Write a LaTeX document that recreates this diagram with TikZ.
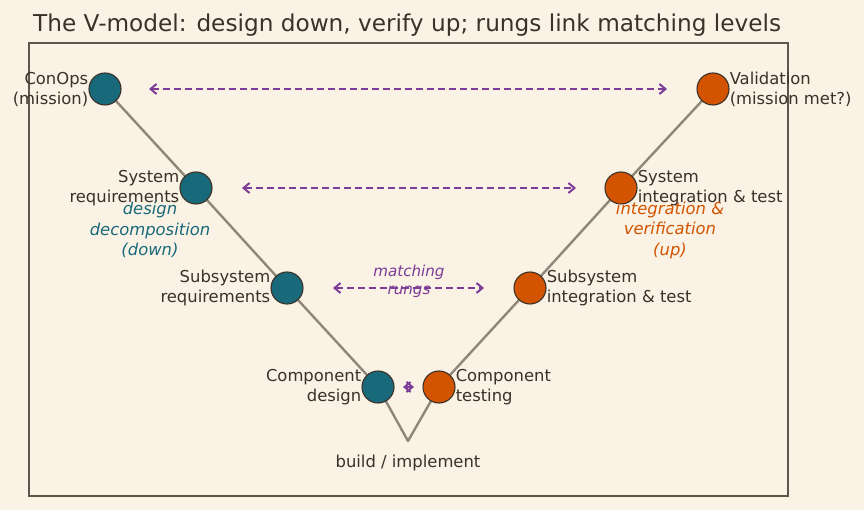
\documentclass[tikz,border=0pt]{standalone}
\usepackage{fontspec}
\setmainfont{DejaVu Sans}
\usetikzlibrary{arrows.meta}
\definecolor{bg}{HTML}{FAF2E4}
\definecolor{ink}{HTML}{3B3129}
\definecolor{frame}{HTML}{5E554B}
\definecolor{teal}{HTML}{18697A}
\definecolor{orng}{HTML}{D35400}
\definecolor{purp}{HTML}{7D3C98}
\definecolor{vline}{HTML}{8E877A}
\tikzset{
  stage/.style={circle, draw=ink, line width=1.1pt, minimum size=32pt, inner sep=0pt},
  design/.style={stage, fill=teal},
  verif/.style={stage, fill=orng},
  lbl/.style={text=ink, font=\fontsize{16.4}{20}\selectfont, inner sep=0pt},
  llbl/.style={lbl, align=right, anchor=east},
  rlbl/.style={lbl, align=left, anchor=west},
  rung/.style={purp, line width=2pt, dash pattern=on 7pt off 4pt, {Straight Barb[length=6pt,width=10pt]}-{Straight Barb[length=6pt,width=10pt]}},
  phase/.style={font=\fontsize{16.4}{20.5}\selectfont\itshape, align=center, inner sep=0pt},
}
\begin{document}
\begin{tikzpicture}[x=1pt,y=-1pt]
\useasboundingbox (0,0) rectangle (864,510);
\fill[bg] (0,0) rectangle (864,510);
\draw[frame, line width=1.4pt] (29,43) rectangle (788,496);
\node[anchor=west, text=ink, font=\fontsize{23.2}{28}\selectfont, inner sep=0pt] (title) at (33,25) {The V-model: design down, verify up; rungs link matching levels};

\coordinate (l1) at (105,89);
\coordinate (l2) at (196,188);
\coordinate (l3) at (287,288);
\coordinate (l4) at (378,387);
\coordinate (bot) at (408,441);
\coordinate (r4) at (439,387);
\coordinate (r3) at (530,288);
\coordinate (r2) at (621,188);
\coordinate (r1) at (713,89);

\draw[vline, line width=2.4pt, line join=round] (l1) -- (l2) -- (l3) -- (l4) -- (bot) -- (r4) -- (r3) -- (r2) -- (r1);

\node[design] (n1) at (l1) {};
\node[design] (n2) at (l2) {};
\node[design] (n3) at (l3) {};
\node[design] (n4) at (l4) {};
\node[verif] (m4) at (r4) {};
\node[verif] (m3) at (r3) {};
\node[verif] (m2) at (r2) {};
\node[verif] (m1) at (r1) {};

\node[llbl] (t1) at (n1.west) {ConOps\\(mission)};
\node[llbl] (t2) at (n2.west) {System\\requirements};
\node[llbl] (t3) at (n3.west) {Subsystem\\requirements};
\node[llbl] (t4) at (n4.west) {Component\\design};
\node[rlbl] (u4) at (m4.east) {Component\\testing};
\node[rlbl] (u3) at (m3.east) {Subsystem\\integration \& test};
\node[rlbl] (u2) at (m2.east) {System\\integration \& test};
\node[rlbl] (u1) at (m1.east) {Validation\\(mission met?)};

\draw[rung, shorten <=44pt, shorten >=46pt] (n1.center) -- (m1.center);
\draw[rung, shorten <=46pt, shorten >=45pt] (n2.center) -- (m2.center);
\draw[rung, shorten <=46pt, shorten >=46pt] (n3.center) -- (m3.center);
\draw[rung, dash pattern=on 7pt off 0pt, shorten <=25pt, shorten >=25pt] (n4.center) -- (m4.center);

\node[phase, text=teal] (dd) at (150,230) {design\\decomposition\\(down)};
\node[phase, text=orng] (iv) at (670,230) {integration \&\\verification\\(up)};
\node[font=\fontsize{15.1}{18}\selectfont\itshape, text=purp, align=center, inner sep=0pt] (mr) at (409,281) {matching\\rungs};
\node[text=ink, font=\fontsize{16.4}{20}\selectfont, inner sep=0pt] (bi) at (408,463) {build / implement};
\end{tikzpicture}
\end{document}
